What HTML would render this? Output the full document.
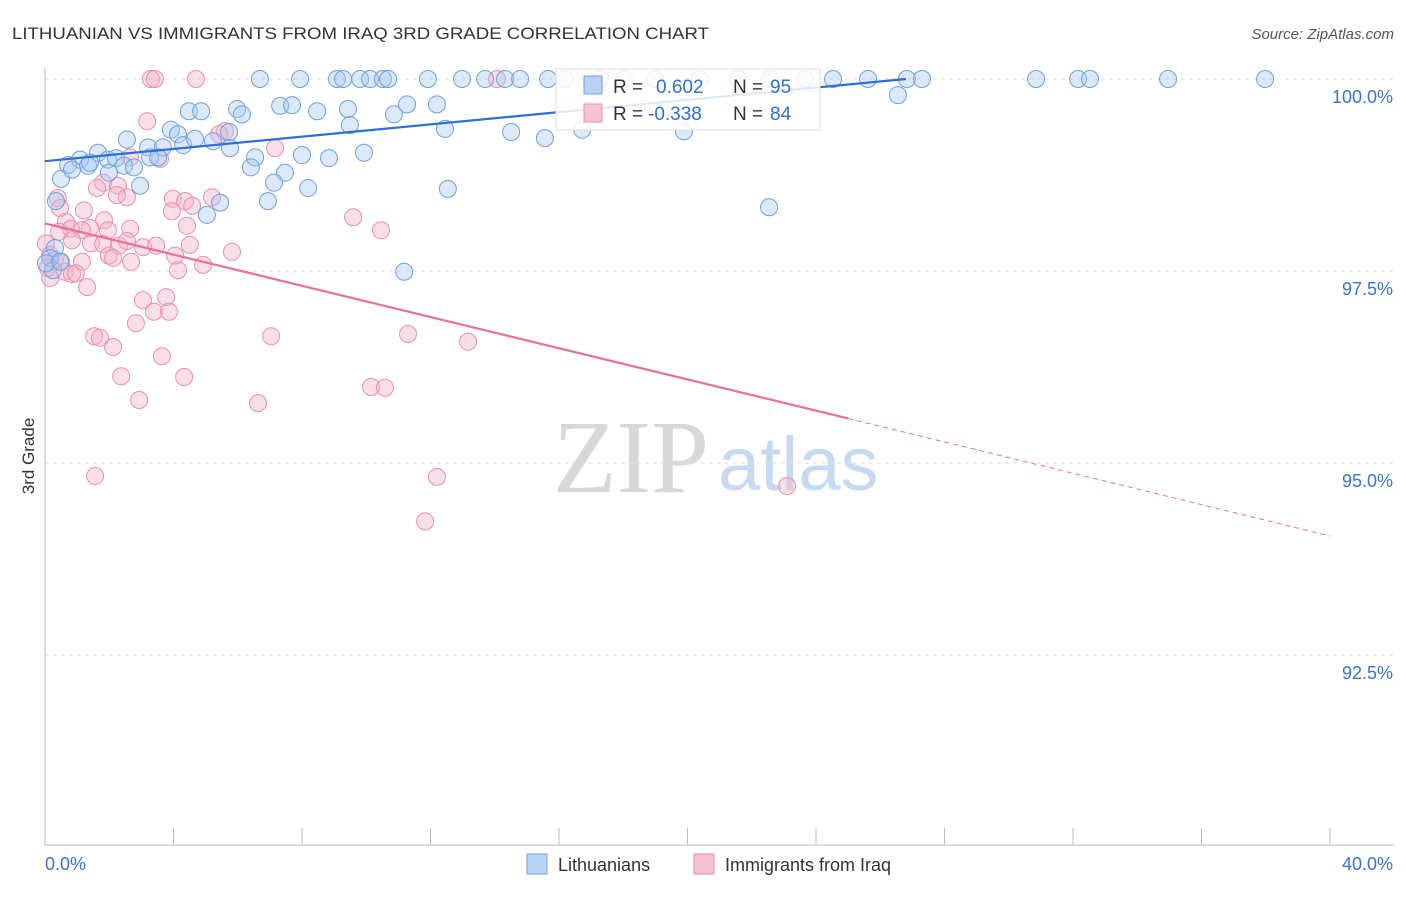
<!DOCTYPE html>
<html><head><meta charset="utf-8"><style>
body{margin:0;background:#fff;font-family:"Liberation Sans",sans-serif}
svg text{font-family:"Liberation Sans",sans-serif}
</style></head><body>
<svg id="chart" width="1406" height="892" viewBox="0 0 1406 892">
<text x="12" y="39" font-size="17" fill="#333" textLength="697" lengthAdjust="spacingAndGlyphs">LITHUANIAN VS IMMIGRANTS FROM IRAQ 3RD GRADE CORRELATION CHART</text>
<text x="1394" y="39" font-size="15" fill="#555" text-anchor="end" font-style="italic">Source: ZipAtlas.com</text>
<g>
<text x="553" y="492" font-size="104" fill="#d8d8d8" style="font-family:'Liberation Serif',serif">ZIP</text>
<text x="718" y="490" font-size="76" fill="#c8daf0">atlas</text>
</g>
<g id="grid"></g>
<g id="axes"></g>
<g id="marks"></g>
<g>
<rect x="556" y="69" width="264" height="61" fill="#fff" fill-opacity="0.85" stroke="#ddd"/>
<rect x="584" y="76" width="18" height="18" fill="#b8d2f4" stroke="#6f9fe0"/>
<text x="613" y="93" font-size="19" fill="#333">R = </text><text x="656" y="93" font-size="19" fill="#2e6fd6">0.602</text>
<text x="733" y="93" font-size="19" fill="#333">N = </text><text x="770" y="93" font-size="19" fill="#2e6fd6">95</text>
<rect x="584" y="104" width="18" height="18" fill="#f8c4d4" stroke="#e890ab"/>
<text x="613" y="120" font-size="19" fill="#333">R = </text><text x="648" y="120" font-size="19" fill="#2e6fd6">-0.338</text>
<text x="733" y="120" font-size="19" fill="#333">N = </text><text x="770" y="120" font-size="19" fill="#2e6fd6">84</text>
</g>
<g>
<rect x="527" y="854" width="20" height="20" fill="#b8d2f4" stroke="#6f9fe0"/>
<text x="558" y="871" font-size="18" fill="#333">Lithuanians</text>
<rect x="694" y="854" width="20" height="20" fill="#f8c4d4" stroke="#e890ab"/>
<text x="725" y="871" font-size="18" fill="#333">Immigrants from Iraq</text>
</g>
<text x="34" y="456" font-size="17" fill="#333" transform="rotate(-90 34 456)" text-anchor="middle">3rd Grade</text>
</svg>
<script>
const blueX=[6.69,7.94,9.09,9.28,9.81,10.12,10.52,10.68,11.92,12.98,13.70,14.32,14.79,15.66,16.19,17.28,18.05,18.99,20.39,21.57,22.57,23.66,24.53,25.62,26.83,27.30,30.85,32.16,32.53,34.96,37.98,26.55,4.48,4.86,5.98,6.13,7.32,7.69,8.47,9.43,10.86,11.27,12.20,9.49,12.45,14.51,15.56,16.72,19.89,3.92,4.14,5.73,2.55,3.21,3.67,4.30,4.67,5.23,5.76,6.54,8.00,8.84,9.93,1.65,1.09,1.96,2.21,0.72,1.34,2.46,2.77,3.27,6.41,7.47,0.50,0.84,1.99,2.96,7.13,8.19,12.54,0.34,5.45,5.04,6.94,22.54,11.18,0.31,0.16,0.25,0.03,0.47,3.52,1.40];
const blueY=[100,100,100,100,100,100,100,100,100,100,100,100,100,100,100,100,100,100,100,100,100,100,100,100,100,100,100,100,100,100,100,99.79,99.58,99.58,99.61,99.54,99.65,99.66,99.58,99.61,99.54,99.67,99.67,99.40,99.35,99.31,99.23,99.34,99.32,99.34,99.28,99.31,99.21,99.11,99.11,99.14,99.22,99.19,99.10,98.98,99.01,98.97,99.04,99.04,98.95,98.95,98.97,98.88,98.87,98.87,98.85,98.98,98.85,98.78,98.70,98.82,98.78,98.61,98.65,98.58,98.57,98.41,98.39,98.23,98.41,98.33,97.49,97.80,97.67,97.51,97.60,97.62,98.98,98.91];
const pinkX=[3.30,3.42,4.70,14.07,3.18,5.60,5.42,7.16,2.65,3.58,1.81,2.27,2.55,1.62,2.24,0.40,0.47,3.98,4.36,4.58,5.20,3.95,1.21,0.65,0.81,1.84,1.40,1.15,2.65,1.96,4.42,9.59,10.46,0.44,0.84,1.43,1.81,2.30,2.55,3.05,3.46,4.51,5.82,0.03,0.16,0.31,0.50,1.15,1.99,2.12,2.68,4.05,4.14,4.92,0.62,0.84,0.96,1.31,3.05,3.77,3.39,3.86,2.83,1.53,1.71,2.12,7.04,11.30,13.17,3.64,2.37,4.33,10.15,10.58,2.93,6.63,1.56,12.20,11.83,23.10,0.16,0.09];
const pinkY=[100,100,100,100,99.45,99.32,99.28,99.10,98.98,98.96,98.65,98.61,98.46,98.58,98.49,98.45,98.32,98.44,98.41,98.35,98.46,98.28,98.29,98.14,98.05,98.16,98.06,98.03,98.05,98.03,98.09,98.20,98.03,98.01,97.90,97.86,97.85,97.83,97.89,97.81,97.83,97.84,97.75,97.86,97.71,97.64,97.62,97.62,97.70,97.67,97.62,97.70,97.51,97.58,97.49,97.46,97.47,97.29,97.12,97.16,96.97,96.97,96.82,96.65,96.63,96.51,96.65,96.68,96.58,96.39,96.13,96.12,95.99,95.98,95.82,95.78,94.83,94.82,94.24,94.70,97.41,97.54];
const yTicks=[100,97.5,95,92.5];
const yTickLabels=["100.0%","97.5%","95.0%","92.5%"];
const xTicks=[0,4,8,12,16,20,24,28,32,36,40];
const blueTrend=[[0,98.93],[26.8,100]];
const pinkTrendSolid=[[0,98.12],[25,95.58]];
const pinkTrendDash=[[25,95.58],[40,94.05]];

const X=v=>45+v*1285/40;
const Y=v=>79+(100-v)*76.8;
const NS="http://www.w3.org/2000/svg";
function mk(tag,attrs,parent){const e=document.createElementNS(NS,tag);for(const k in attrs)e.setAttribute(k,attrs[k]);parent.appendChild(e);return e;}
const grid=document.getElementById('grid'),axes=document.getElementById('axes'),marks=document.getElementById('marks');
yTicks.forEach((t,i)=>{
  const l=mk('line',{x1:45,x2:1394,y1:Y(t),y2:Y(t),stroke:'#ddd','stroke-dasharray':'4 4'},grid);
  
  
  const tx=mk('text',{x:1393,y:Y(t)+24,'font-size':18,fill:'#3a72d8','text-anchor':'end'},axes);
  tx.textContent=yTickLabels[i];
  
  
});
const xa=mk('line',{x1:45,x2:1394,y1:845,y2:845,stroke:'#bbb'},axes);


const ya=mk('line',{x1:45,x2:45,y1:68,y2:845,stroke:'#bbb'},axes);


xTicks.forEach(t=>{
  const l=mk('line',{x1:X(t),x2:X(t),y1:828,y2:845,stroke:'#bbb'},axes);
  
  
});
const xl0=mk('text',{x:45,y:870,'font-size':18,fill:'#3a72d8'},axes);xl0.textContent=xTicks[0].toFixed(1)+'%';


const xl1=mk('text',{x:1393,y:870,'font-size':18,fill:'#3a72d8','text-anchor':'end'},axes);xl1.textContent=xTicks[xTicks.length-1].toFixed(1)+'%';



pinkX.forEach((x,i)=>{
  const c=mk('circle',{cx:X(x),cy:Y(pinkY[i]),r:8.5,fill:'#f4b0c6','fill-opacity':0.4,stroke:'#e890ab','stroke-width':1},marks);
  
  
});
blueX.forEach((x,i)=>{
  const c=mk('circle',{cx:X(x),cy:Y(blueY[i]),r:8.5,fill:'#a8c8f0','fill-opacity':0.4,stroke:'#6f9fe0','stroke-width':1},marks);
  
  
});
const bt=mk('line',{x1:X(blueTrend[0][0]),y1:Y(blueTrend[0][1]),x2:X(blueTrend[1][0]),y2:Y(blueTrend[1][1]),stroke:'#2e6fd6','stroke-width':2.2},marks);


const pt=mk('line',{x1:X(pinkTrendSolid[0][0]),y1:Y(pinkTrendSolid[0][1]),x2:X(pinkTrendSolid[1][0]),y2:Y(pinkTrendSolid[1][1]),stroke:'#e8709a','stroke-width':2.2},marks);


const pd=mk('line',{x1:X(pinkTrendDash[0][0]),y1:Y(pinkTrendDash[0][1]),x2:X(pinkTrendDash[1][0]),y2:Y(pinkTrendDash[1][1]),stroke:'#e8709a','stroke-width':1,'stroke-dasharray':'5 4'},marks);


</script>
</body></html>
